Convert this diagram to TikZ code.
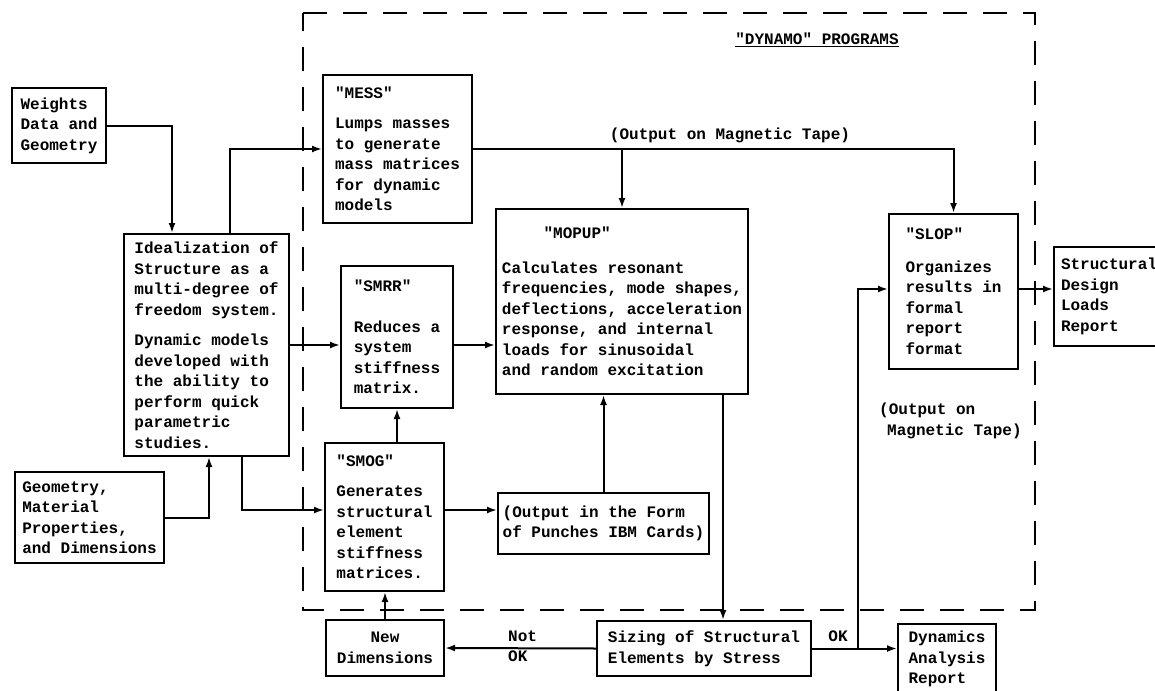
\documentclass[tikz,border=0pt]{standalone}
\usepackage{fontspec}
\setmonofont{Liberation Mono}
\usetikzlibrary{arrows.meta}

\tikzset{
  box/.style={draw, line width=2pt, align=left, inner sep=3pt, anchor=north west,
    font=\ttfamily\bfseries\fontsize{16}{20.5}\selectfont},
  lbl/.style={inner sep=0pt, align=left, font=\ttfamily\bfseries\fontsize{16}{20.5}\selectfont},
  arr/.style={-{Latex[length=10pt,width=7pt]}, line width=2pt},
  progframe/.style={line width=2.2pt, dash pattern=on 24pt off 16pt}
}

\begin{document}
\begin{tikzpicture}[x=1pt,y=1pt,yscale=-1]
\useasboundingbox (0,0) rectangle (1155,690);

%Shape: Dashed frame of the programs
\draw [progframe] (303,13) -- (1035,13) -- (1035,610) -- (303,610) -- cycle;
% Text Node
\node [lbl] (dynamo) at (817,40) {\underline{"DYNAMO" PROGRAMS}};

%Boxes
\node [box, minimum width=94, minimum height=75] (weights) at (11,87) {Weights\\Data and\\Geometry};
\node [box, minimum width=165, minimum height=222] (ideal) at (123,233) {Idealization of\\Structure as a\\multi-degree of\\freedom system.\\[10pt]Dynamic models\\developed with\\the ability to\\perform quick\\parametric\\studies.};
\node [box, minimum width=149, minimum height=91] (geom) at (14,471) {Geometry,\\Material\\Properties,\\and Dimensions};
\node [box, minimum width=149, minimum height=148] (mess) at (322,74) {"MESS"\\[10pt]Lumps masses\\to generate\\mass matrices\\for dynamic\\models};
\node [box, minimum width=112, minimum height=142] (smrr) at (340,265) {"SMRR"\\[20pt]Reduces a\\system\\stiffness\\matrix.};
\node [box, minimum width=119, minimum height=148] (smog) at (324,442) {"SMOG"\\[10pt]Generates\\structural\\element\\stiffness\\matrices.};
\node [box, minimum width=252, minimum height=185] (mopup) at (495,208) {\hspace*{2.6em}"MOPUP"\\[14pt]Calculates resonant\\frequencies, mode shapes,\\deflections, acceleration\\response, and internal\\loads for sinusoidal\\and random excitation};
\node [box, minimum width=211, minimum height=61] (outbox) at (497,492) {(Output in the Form\\of Punches IBM Cards)};
\node [box, minimum width=129, minimum height=155] (slop) at (888,213) {"SLOP"\\[12pt]Organizes\\results in\\formal\\report\\format};
\node [box, minimum width=110, minimum height=99] (struct) at (1053,246) {Structural\\Design\\Loads\\Report};
\node [box, minimum width=214, minimum height=55] (sizing) at (596,620) {Sizing of Structural\\Elements by Stress};
\node [box, minimum width=118, minimum height=56, align=center] (newdim) at (325,619) {New\\Dimensions};
\node [box, minimum width=98, minimum height=70] (dyn) at (897,623) {Dynamics\\Analysis\\Report};

% Text Node
\node [lbl] (tapetop) at (730,135) {(Output on Magnetic Tape)};
\node [lbl, anchor=west] (taperight) at (879,421) {(Output on\\\hspace*{0.5em}Magnetic Tape)};
\node [lbl, anchor=west] (notok) at (508,646) {Not\\OK};
\node [lbl] (ok) at (838,636) {OK};

%Connectors
\draw [arr] (weights.east) -| ([xshift=49pt]ideal.north west);
\draw [arr] ([xshift=107pt]ideal.north west) |- (mess.west);
\draw [arr] (ideal.east) -- (ideal.east -| smrr.west);
\draw [arr] (smrr.east |- ideal.east) -- (ideal.east -| mopup.west);
\draw [arr] ([xshift=119pt]ideal.south west) |- ([yshift=-7pt]smog.west);
\draw [arr] (geom.east) -| ([xshift=86pt]ideal.south west);
\draw [arr] (smog.north -| smrr.south) -- (smrr.south);
\draw [arr] ([yshift=-7pt]smog.east) -- ([yshift=-7pt]smog.east -| outbox.west);
\draw [arr] (outbox.north) -- (outbox.north |- mopup.south);
\draw [arr] (mess.east) -| (slop.north);
\draw [arr] (mess.east -| mopup.north) -- (mopup.north);
\draw [arr] ([xshift=-26pt]mopup.south east) -- ([xshift=-26pt]mopup.south east |- sizing.north);
\draw [arr] (sizing.west) -- (newdim.east);
\draw [arr] (newdim.north) -- (newdim.north |- smog.south);
\draw [arr] (sizing.east) -- (sizing.east -| dyn.west);
\coordinate (okjoin) at ([xshift=46pt]sizing.east);
\draw [arr] (okjoin) |- ([yshift=-2.5pt]slop.west);
\draw [arr] ([yshift=-2.5pt]slop.east) -- ([yshift=-2.5pt]slop.east -| struct.west);

\end{tikzpicture}
\end{document}
